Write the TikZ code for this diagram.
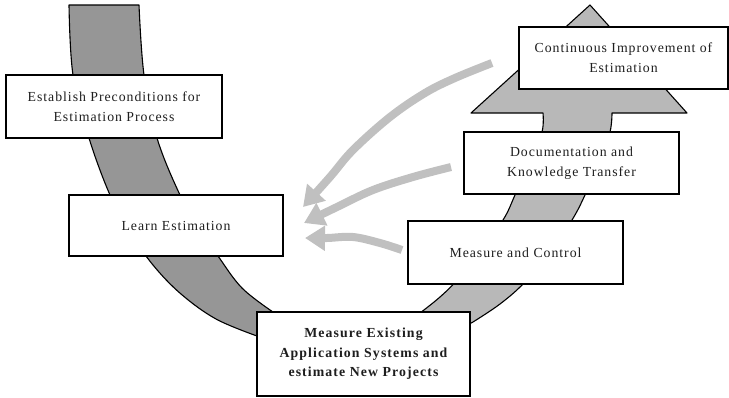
\documentclass[tikz,border=0pt]{standalone}
\usepackage{fontspec}
\setmainfont[LetterSpace=7]{Liberation Serif}
\newfontfamily\widebold[LetterSpace=8]{Liberation Serif}
\usetikzlibrary{arrows.meta}

\definecolor{bandleft}{RGB}{150,150,150}
\definecolor{bandright}{RGB}{184,184,184}
\definecolor{feedback}{RGB}{192,192,192}
\definecolor{ink}{RGB}{30,30,30}

\tikzset{
  stepbox/.style={draw=black, line width=1.3pt, fill=white, rectangle,
    inner sep=0pt, align=center, text=ink,
    font=\fontsize{13.8}{20}\selectfont},
  keybox/.style={stepbox, font=\widebold\fontsize{13.8}{19.5}\selectfont\bfseries},
  band/.style={draw=black, line width=1.1pt, line join=round},
  feed/.style={draw=feedback, line width=8pt,
    -{Triangle[length=20pt,width=24pt]}}
}

\begin{document}
\begin{tikzpicture}[x=1pt,y=-1pt]
\useasboundingbox (0,0) rectangle (729,397);

% descending band on the left
\draw[band, fill=bandleft]
  plot[smooth, tension=0.6] coordinates {(69,5) (73,75) (89,138) (110,195)
    (130,232) (153,265) (181,294) (216,319) (257,336)}
  -- (280,350)
  -- plot[smooth, tension=0.6] coordinates {(273,312) (242,288)
    (218,256) (199,228) (180,195) (157,138) (144,75) (139,5)}
  -- cycle;

% rising band with arrow head on the right
\draw[band, fill=bandright]
  plot[smooth, tension=0.6] coordinates {(420,313) (440,297) (458,279)
    (480,250) (503,220) (515,195) (530,160) (542,132) (543,113)}
  -- (471,113) -- (590,5) -- (687,113)
  -- plot[smooth, tension=0.6] coordinates {(612,113) (610,132) (600,160)
    (585,195) (572,220) (550,252) (524,283) (500,304) (473,322)}
  -- (440,340) -- cycle;

% process steps
\node[stepbox, minimum width=216pt, minimum height=63pt] (est) at (114,106.5)
  {Establish Preconditions for\\Estimation Process};
\node[stepbox, minimum width=214pt, minimum height=61pt] (learn) at (176,225.5)
  {Learn Estimation};
\node[keybox, minimum width=213pt, minimum height=84pt] (mexist) at (363.5,354)
  {Measure Existing\\Application Systems and\\estimate New Projects};
\node[stepbox, minimum width=215pt, minimum height=63pt] (mc) at (515.5,252.5)
  {Measure and Control};
\node[stepbox, minimum width=215pt, minimum height=62pt] (doc) at (571.5,163)
  {Documentation and\\Knowledge Transfer};
\node[stepbox, minimum width=209pt, minimum height=62pt] (cont) at (623.5,58)
  {Continuous Improvement of\\Estimation};

% feedback arrows towards the learning step
\coordinate (f1s) at (492,63);
\coordinate (f1e) at (303,207);
\coordinate (f2s) at (451,167);
\coordinate (f2e) at (304,223);
\coordinate (f3s) at (402,250);
\coordinate (f3e) at (305,238);

\draw[feed] plot[smooth, tension=0.6] coordinates {(f1s) (455,78) (425,93)
  (390,117) (353,150) (330,177) (f1e)};
\draw[feed] plot[smooth, tension=0.6] coordinates {(f2s) (413,177) (373,190)
  (337,207) (f2e)};
\draw[feed] plot[smooth, tension=0.6] coordinates {(f3s) (380,243) (353,237)
  (327,238) (f3e)};
\end{tikzpicture}
\end{document}
